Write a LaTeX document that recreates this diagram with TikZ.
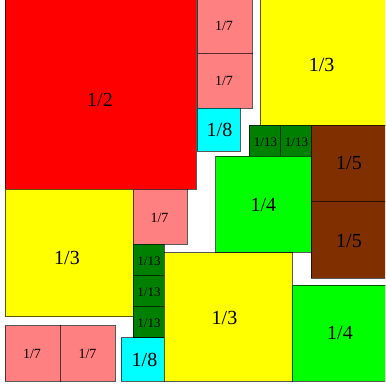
\documentclass[tikz,border=0pt]{standalone}
\usepackage{fontspec}
\setmainfont{Liberation Serif}
\definecolor{cred}{RGB}{255,0,0}
\definecolor{cpink}{RGB}{255,128,128}
\definecolor{ccyan}{RGB}{0,255,255}
\definecolor{cyel}{RGB}{255,255,0}
\definecolor{cgreen}{RGB}{0,255,0}
\definecolor{cdgreen}{RGB}{0,128,0}
\definecolor{cbrown}{RGB}{128,48,0}
\tikzset{
  tile/.style={draw=black, draw opacity=0.65, line width=0.9pt},
  big/.style={inner sep=0pt, font=\fontsize{20}{20}\selectfont},
  mid/.style={inner sep=0pt, font=\fontsize{14}{14}\selectfont},
  small/.style={inner sep=0pt, font=\fontsize{13}{13}\selectfont},
}
\begin{document}
\begin{tikzpicture}[x=1pt,y=-1pt]
\useasboundingbox (0,0) rectangle (385,390);
\begin{scope}
\clip (0,0) rectangle (385,390);
% top-left
\path[tile, fill=cred] (5,-3) rectangle (196,189);
\path[tile, fill=cpink] (197,-3) rectangle (252,53);
\path[tile, fill=cpink] (197,53) rectangle (252,108);
\path[tile, fill=ccyan] (197,108) rectangle (240,151);
% top-right
\path[tile, fill=cyel] (260,-3) rectangle (388,125);
\path[tile, fill=cdgreen] (249,125) rectangle (280,156);
\path[tile, fill=cdgreen] (280,125) rectangle (311,156);
\path[tile, fill=cbrown] (311,125) rectangle (388,201);
\path[tile, fill=cbrown] (311,201) rectangle (388,278);
\path[tile, fill=cgreen] (215.5,156) rectangle (311,252);
% bottom-left
\path[tile, fill=cyel] (5,189) rectangle (133,316.5);
\path[tile, fill=cpink] (133,189) rectangle (187,244);
\path[tile, fill=cdgreen] (133,244) rectangle (164,275);
\path[tile, fill=cdgreen] (133,275) rectangle (164,306);
\path[tile, fill=cdgreen] (133,306) rectangle (164,337.5);
\path[tile, fill=ccyan] (121,337.5) rectangle (164,381);
\path[tile, fill=cpink] (5,325.5) rectangle (60,381);
\path[tile, fill=cpink] (60,325.5) rectangle (115,381);
% bottom-right
\path[tile, fill=cyel] (164,252.5) rectangle (292,381);
\path[tile, fill=cgreen] (292,285) rectangle (388,381);
\end{scope}
% labels
\node[big] (l12) at (100,99.5) {1/2};
\node[mid] (l7a) at (224,26) {1/7};
\node[mid] (l7b) at (224,80.5) {1/7};
\node[big] (l8a) at (219.5,129.5) {1/8};
\node[big] (l3a) at (321.7,64.7) {1/3};
\node[small] (l13a) at (265.5,142) {1/13};
\node[small] (l13b) at (296.5,142) {1/13};
\node[big] (l5a) at (349,163) {1/5};
\node[big] (l5b) at (349,240.5) {1/5};
\node[big] (l4a) at (263.3,204.5) {1/4};
\node[big] (l3b) at (67,257.7) {1/3};
\node[mid] (l7c) at (159.5,217.5) {1/7};
\node[small] (l13c) at (149,261) {1/13};
\node[small] (l13d) at (149,292) {1/13};
\node[small] (l13e) at (149,323) {1/13};
\node[big] (l8b) at (144.5,360) {1/8};
\node[mid] (l7d) at (32,354) {1/7};
\node[mid] (l7e) at (87.5,354) {1/7};
\node[big] (l3c) at (224.5,317.8) {1/3};
\node[big] (l4b) at (340,333.2) {1/4};
\end{tikzpicture}
\end{document}
